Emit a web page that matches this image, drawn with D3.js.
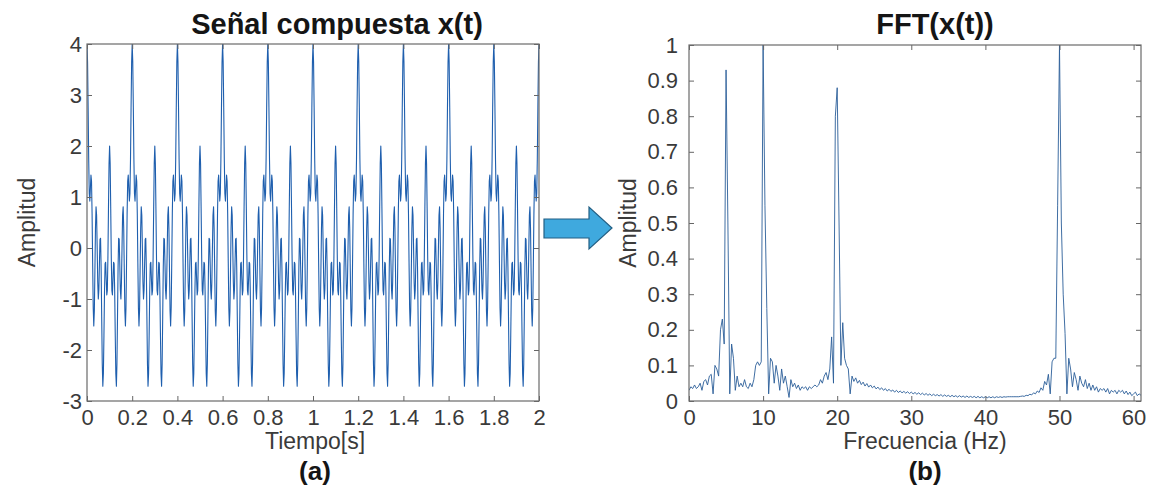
<!DOCTYPE html>
<meta charset="utf-8">
<style>
  body { margin: 0; background: #fff; }
  svg { font-family: "Liberation Sans", Arial, sans-serif; }
  .tick text { fill: #3a3a3a; }
  .tick line { stroke: #666; }
</style>
<svg width="1150" height="498"></svg>
<script src="https://d3js.org/d3.v7.min.js"></script>
<script>

// composite signal x(t), one sample every 2.5 ms from 0 to 2 s
var dt = 0.0025;
var signal = [
  4,3.64,2.75,1.74,1.07,0.92,1.17,1.43,1.31,0.67,-0.29,-1.17,-1.53,-1.23,-0.44,0.38,0.81,0.64,0.01,-0.67,-1,-0.82,-0.3,0.17,0.19,-0.38,-1.35,-2.27,-2.71,-2.46,-1.71,-0.85,-0.31,-0.28,-0.61,-0.92,-0.83,-0.2,0.77,1.65,2,1.65,0.77,-0.2,-0.83,-0.92,-0.61,-0.28,-0.31,-0.85,-1.71,-2.46,-2.71,-2.27,-1.35,-0.38,0.19,0.17,-0.3,-0.82,-1,-0.67,0.01,0.64,0.81,0.38,-0.44,-1.23,-1.53,-1.17,-0.29,0.67,1.31,1.43,1.17,0.92,1.07,1.74,2.75,3.64,
  4,3.64,2.75,1.74,1.07,0.92,1.17,1.43,1.31,0.67,-0.29,-1.17,-1.53,-1.23,-0.44,0.38,0.81,0.64,0.01,-0.67,-1,-0.82,-0.3,0.17,0.19,-0.38,-1.35,-2.27,-2.71,-2.46,-1.71,-0.85,-0.31,-0.28,-0.61,-0.92,-0.83,-0.2,0.77,1.65,2,1.65,0.77,-0.2,-0.83,-0.92,-0.61,-0.28,-0.31,-0.85,-1.71,-2.46,-2.71,-2.27,-1.35,-0.38,0.19,0.17,-0.3,-0.82,-1,-0.67,0.01,0.64,0.81,0.38,-0.44,-1.23,-1.53,-1.17,-0.29,0.67,1.31,1.43,1.17,0.92,1.07,1.74,2.75,3.64,
  4,3.64,2.75,1.74,1.07,0.92,1.17,1.43,1.31,0.67,-0.29,-1.17,-1.53,-1.23,-0.44,0.38,0.81,0.64,0.01,-0.67,-1,-0.82,-0.3,0.17,0.19,-0.38,-1.35,-2.27,-2.71,-2.46,-1.71,-0.85,-0.31,-0.28,-0.61,-0.92,-0.83,-0.2,0.77,1.65,2,1.65,0.77,-0.2,-0.83,-0.92,-0.61,-0.28,-0.31,-0.85,-1.71,-2.46,-2.71,-2.27,-1.35,-0.38,0.19,0.17,-0.3,-0.82,-1,-0.67,0.01,0.64,0.81,0.38,-0.44,-1.23,-1.53,-1.17,-0.29,0.67,1.31,1.43,1.17,0.92,1.07,1.74,2.75,3.64,
  4,3.64,2.75,1.74,1.07,0.92,1.17,1.43,1.31,0.67,-0.29,-1.17,-1.53,-1.23,-0.44,0.38,0.81,0.64,0.01,-0.67,-1,-0.82,-0.3,0.17,0.19,-0.38,-1.35,-2.27,-2.71,-2.46,-1.71,-0.85,-0.31,-0.28,-0.61,-0.92,-0.83,-0.2,0.77,1.65,2,1.65,0.77,-0.2,-0.83,-0.92,-0.61,-0.28,-0.31,-0.85,-1.71,-2.46,-2.71,-2.27,-1.35,-0.38,0.19,0.17,-0.3,-0.82,-1,-0.67,0.01,0.64,0.81,0.38,-0.44,-1.23,-1.53,-1.17,-0.29,0.67,1.31,1.43,1.17,0.92,1.07,1.74,2.75,3.64,
  4,3.64,2.75,1.74,1.07,0.92,1.17,1.43,1.31,0.67,-0.29,-1.17,-1.53,-1.23,-0.44,0.38,0.81,0.64,0.01,-0.67,-1,-0.82,-0.3,0.17,0.19,-0.38,-1.35,-2.27,-2.71,-2.46,-1.71,-0.85,-0.31,-0.28,-0.61,-0.92,-0.83,-0.2,0.77,1.65,2,1.65,0.77,-0.2,-0.83,-0.92,-0.61,-0.28,-0.31,-0.85,-1.71,-2.46,-2.71,-2.27,-1.35,-0.38,0.19,0.17,-0.3,-0.82,-1,-0.67,0.01,0.64,0.81,0.38,-0.44,-1.23,-1.53,-1.17,-0.29,0.67,1.31,1.43,1.17,0.92,1.07,1.74,2.75,3.64,
  4,3.64,2.75,1.74,1.07,0.92,1.17,1.43,1.31,0.67,-0.29,-1.17,-1.53,-1.23,-0.44,0.38,0.81,0.64,0.01,-0.67,-1,-0.82,-0.3,0.17,0.19,-0.38,-1.35,-2.27,-2.71,-2.46,-1.71,-0.85,-0.31,-0.28,-0.61,-0.92,-0.83,-0.2,0.77,1.65,2,1.65,0.77,-0.2,-0.83,-0.92,-0.61,-0.28,-0.31,-0.85,-1.71,-2.46,-2.71,-2.27,-1.35,-0.38,0.19,0.17,-0.3,-0.82,-1,-0.67,0.01,0.64,0.81,0.38,-0.44,-1.23,-1.53,-1.17,-0.29,0.67,1.31,1.43,1.17,0.92,1.07,1.74,2.75,3.64,
  4,3.64,2.75,1.74,1.07,0.92,1.17,1.43,1.31,0.67,-0.29,-1.17,-1.53,-1.23,-0.44,0.38,0.81,0.64,0.01,-0.67,-1,-0.82,-0.3,0.17,0.19,-0.38,-1.35,-2.27,-2.71,-2.46,-1.71,-0.85,-0.31,-0.28,-0.61,-0.92,-0.83,-0.2,0.77,1.65,2,1.65,0.77,-0.2,-0.83,-0.92,-0.61,-0.28,-0.31,-0.85,-1.71,-2.46,-2.71,-2.27,-1.35,-0.38,0.19,0.17,-0.3,-0.82,-1,-0.67,0.01,0.64,0.81,0.38,-0.44,-1.23,-1.53,-1.17,-0.29,0.67,1.31,1.43,1.17,0.92,1.07,1.74,2.75,3.64,
  4,3.64,2.75,1.74,1.07,0.92,1.17,1.43,1.31,0.67,-0.29,-1.17,-1.53,-1.23,-0.44,0.38,0.81,0.64,0.01,-0.67,-1,-0.82,-0.3,0.17,0.19,-0.38,-1.35,-2.27,-2.71,-2.46,-1.71,-0.85,-0.31,-0.28,-0.61,-0.92,-0.83,-0.2,0.77,1.65,2,1.65,0.77,-0.2,-0.83,-0.92,-0.61,-0.28,-0.31,-0.85,-1.71,-2.46,-2.71,-2.27,-1.35,-0.38,0.19,0.17,-0.3,-0.82,-1,-0.67,0.01,0.64,0.81,0.38,-0.44,-1.23,-1.53,-1.17,-0.29,0.67,1.31,1.43,1.17,0.92,1.07,1.74,2.75,3.64,
  4,3.64,2.75,1.74,1.07,0.92,1.17,1.43,1.31,0.67,-0.29,-1.17,-1.53,-1.23,-0.44,0.38,0.81,0.64,0.01,-0.67,-1,-0.82,-0.3,0.17,0.19,-0.38,-1.35,-2.27,-2.71,-2.46,-1.71,-0.85,-0.31,-0.28,-0.61,-0.92,-0.83,-0.2,0.77,1.65,2,1.65,0.77,-0.2,-0.83,-0.92,-0.61,-0.28,-0.31,-0.85,-1.71,-2.46,-2.71,-2.27,-1.35,-0.38,0.19,0.17,-0.3,-0.82,-1,-0.67,0.01,0.64,0.81,0.38,-0.44,-1.23,-1.53,-1.17,-0.29,0.67,1.31,1.43,1.17,0.92,1.07,1.74,2.75,3.64,
  4,3.64,2.75,1.74,1.07,0.92,1.17,1.43,1.31,0.67,-0.29,-1.17,-1.53,-1.23,-0.44,0.38,0.81,0.64,0.01,-0.67,-1,-0.82,-0.3,0.17,0.19,-0.38,-1.35,-2.27,-2.71,-2.46,-1.71,-0.85,-0.31,-0.28,-0.61,-0.92,-0.83,-0.2,0.77,1.65,2,1.65,0.77,-0.2,-0.83,-0.92,-0.61,-0.28,-0.31,-0.85,-1.71,-2.46,-2.71,-2.27,-1.35,-0.38,0.19,0.17,-0.3,-0.82,-1,-0.67,0.01,0.64,0.81,0.38,-0.44,-1.23,-1.53,-1.17,-0.29,0.67,1.31,1.43,1.17,0.92,1.07,1.74,2.75,3.64,
  4
];

// FFT magnitude, one bin every 0.25 Hz from 0 to 61 Hz
var fftStep = 0.25;
var fftAmp = [
  0.03,0.04,0.035,0.045,0.035,0.04,0.05,0.03,0.055,0.06,0.045,0.07,0.075,0.02,0.1,0.09,0.07,0.2,0.23,0.16,
  0.93,0.5,0.02,0.16,0.12,0.03,0.07,0.04,0.05,0.04,0.06,0.04,0.035,0.05,0.04,0.06,0.1,0.11,0.1,0.11,
  1.0,0.55,0.26,0.02,0.12,0.11,0.05,0.1,0.07,0.03,0.09,0.05,0.07,0.04,0.01,0.06,0.04,0.05,0.035,0.045,
  0.03,0.04,0.035,0.04,0.03,0.04,0.035,0.04,0.045,0.04,0.045,0.06,0.05,0.07,0.08,0.06,0.09,0.18,0.05,0.8,
  0.88,0.5,0.1,0.22,0.12,0.1,0.09,0.02,
  0.07,0.055,0.065,0.05,0.058,0.046,0.053,0.042,0.049,0.039,0.045,0.037,0.042,0.034,0.039,0.032,
  0.037,0.03,0.035,0.028,0.033,0.027,0.031,0.025,0.03,0.024,0.028,0.023,0.027,0.022,0.026,0.021,
  0.025,0.02,0.024,0.019,0.023,0.018,0.022,0.017,0.021,0.016,0.02,0.015,0.019,0.015,0.018,0.014,
  0.018,0.013,0.017,0.013,0.016,0.012,0.016,0.012,0.015,0.011,0.015,0.011,0.014,0.01,0.014,0.01,
  0.013,0.01,0.013,0.009,0.013,0.009,0.012,0.009,0.012,0.009,0.012,0.009,0.012,0.009,0.012,0.01,
  0.012,0.01,0.012,0.011,0.012,0.012,0.012,0.012,0.012,0.012,0.012,0.013,0.014,0.013,0.016,0.015,
  0.019,0.017,0.023,0.02,0.028,0.024,0.037,0.03,0.055,0.045,0.075,0.02,0.11,0.12,0.12,0.55,
  1.0,0.5,0.3,0.19,0.02,0.12,0.09,0.04,0.08,0.06,0.03,0.07,0.05,0.04,0.06,0.035,0.05,0.03,0.045,0.03,
  0.04,0.025,0.035,0.03,0.035,0.025,0.035,0.02,0.03,0.025,0.03,0.02,0.03,0.025,0.03,0.02,0.028,0.018,0.025,0.015,
  0.02,0.025,0.015,0.02,0.016
];

var timeTicks = [0, 0.2, 0.4, 0.6, 0.8, 1, 1.2, 1.4, 1.6, 1.8, 2];
var ampTicks = [-3, -2, -1, 0, 1, 2, 3, 4];
var freqTicks = [0, 10, 20, 30, 40, 50, 60];
var fftTicks = [0, 0.1, 0.2, 0.3, 0.4, 0.5, 0.6, 0.7, 0.8, 0.9, 1];

var svg = d3.select("svg");
var fmt = function(d) { return String(d); };

function drawPanel(p) {
  var x = d3.scaleLinear().domain(p.xDomain).range([p.left, p.right]);
  var y = d3.scaleLinear().domain(p.yDomain).range([p.bottom, p.top]);
  var g = svg.append("g");

  g.append("clipPath").attr("id", p.id + "-clip")
    .append("rect")
    .attr("x", p.left).attr("y", p.top)
    .attr("width", p.right - p.left).attr("height", p.bottom - p.top);

  var line = d3.line()
    .x(function(d, i) { return x(i * p.step); })
    .y(function(d) { return y(d); });

  g.append("path")
    .datum(p.values)
    .attr("clip-path", "url(#" + p.id + "-clip)")
    .attr("fill", "none")
    .attr("stroke", p.color)
    .attr("stroke-width", p.width)
    .attr("stroke-linejoin", "round")
    .attr("d", line);

  // ticks on all four sides, pointing in
  g.append("g").attr("transform", "translate(0," + p.bottom + ")")
    .call(d3.axisBottom(x).tickValues(p.xTicks).tickFormat(fmt).tickSize(-5).tickPadding(8));
  g.append("g").attr("transform", "translate(" + p.left + ",0)")
    .call(d3.axisLeft(y).tickValues(p.yTicks).tickFormat(fmt).tickSize(-5).tickPadding(p.yPad));
  g.append("g").attr("transform", "translate(0," + p.top + ")")
    .call(d3.axisTop(x).tickValues(p.xTicks).tickFormat("").tickSize(-5));
  g.append("g").attr("transform", "translate(" + p.right + ",0)")
    .call(d3.axisRight(y).tickValues(p.yTicks).tickFormat("").tickSize(-5));
  g.selectAll(".domain").remove();
  g.selectAll(".tick text").style("font-size", "22px").style("font-family", "Liberation Sans, Arial, sans-serif");

  g.append("rect")
    .attr("x", p.left).attr("y", p.top)
    .attr("width", p.right - p.left).attr("height", p.bottom - p.top)
    .attr("fill", "none").attr("stroke", "#6a6a6a").attr("stroke-width", 1.2);

  var cx = (p.left + p.right) / 2;
  g.append("text")
    .attr("x", cx + p.titleShift).attr("y", 34)
    .attr("text-anchor", "middle")
    .style("font-size", "29px").style("font-weight", "bold").style("fill", "#151515")
    .text(p.title);

  g.append("text")
    .attr("x", cx + p.labelShift).attr("y", 449)
    .attr("text-anchor", "middle")
    .style("font-size", "23px").style("fill", "#3a3a3a")
    .text(p.xLabel);

  g.append("text")
    .attr("x", cx + p.labelShift).attr("y", 480)
    .attr("text-anchor", "middle")
    .style("font-size", "26px").style("font-weight", "bold").style("fill", "#151515")
    .text(p.tag);

  g.append("text")
    .attr("transform", "translate(" + p.yLabelX + "," + ((p.top + p.bottom) / 2) + ") rotate(-90)")
    .attr("text-anchor", "middle")
    .style("font-size", "23px").style("fill", "#3a3a3a")
    .text("Amplitud");
}

drawPanel({
  id: "sig", left: 87, right: 539, top: 44, bottom: 401,
  xDomain: [0, 2], yDomain: [-3, 4], xTicks: timeTicks, yTicks: ampTicks, yPad: 5,
  values: signal, step: dt, color: "#1f5fae", width: 1.1,
  title: "Señal compuesta x(t)", xLabel: "Tiempo[s]", tag: "(a)", yLabelX: 35,
  titleShift: 24, labelShift: 2
});

drawPanel({
  id: "fft", left: 689, right: 1141, top: 45, bottom: 401,
  xDomain: [0, 61], yDomain: [0, 1], xTicks: freqTicks, yTicks: fftTicks, yPad: 11,
  values: fftAmp, step: fftStep, color: "#2a5d98", width: 0.9,
  title: "FFT(x(t))", xLabel: "Frecuencia (Hz)", tag: "(b)", yLabelX: 636,
  titleShift: 20, labelShift: 10
});

// block arrow between the two panels
svg.append("path")
  .attr("d", "M544,219 L589,219 L589,207 L612,228 L589,249 L589,238 L544,238 Z")
  .attr("fill", "#3fa9de")
  .attr("stroke", "#235f83")
  .attr("stroke-width", 1.2)
  .attr("stroke-linejoin", "miter");

</script>
